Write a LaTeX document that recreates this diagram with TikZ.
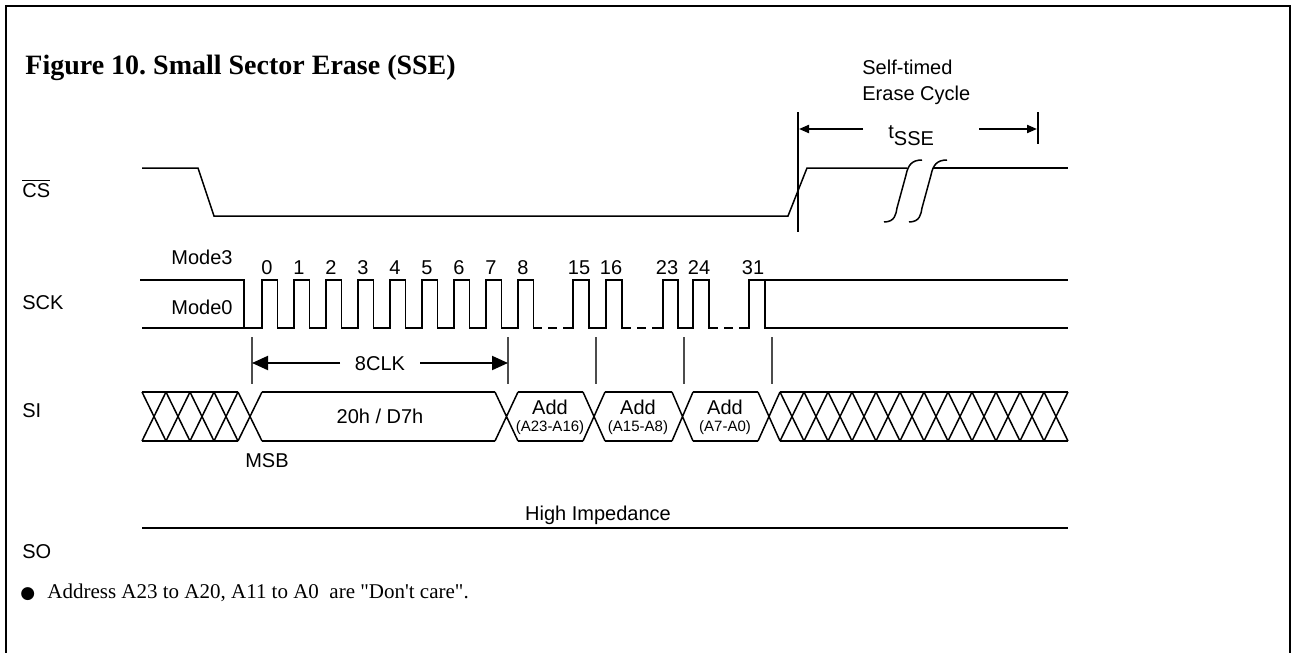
\documentclass[tikz,border=0pt]{standalone}
\usepackage{fontspec}
\setmainfont{Liberation Sans}
\newfontfamily\seriffont[Ligatures=TeXOff]{Liberation Serif}
\newfontfamily\symfont{DejaVu Sans}
\usetikzlibrary{arrows.meta}
\begin{document}
\frenchspacing
\begin{tikzpicture}[x=0.5pt,y=-0.5pt,
  sig/.style={line width=0.75pt, line join=miter},
  marker/.style={black!70, line width=0.6pt},
  lbl/.style={font=\fontsize{10}{12}\selectfont, inner sep=0pt, anchor=base},
  lblw/.style={font=\fontsize{10}{12}\selectfont, inner sep=0pt, anchor=base west},
  sublbl/.style={font=\fontsize{7.5}{9}\selectfont, inner sep=0pt, anchor=base},
  bigarrow/.style={line width=1pt, -{Triangle[length=8pt,width=7pt]}},
  smallarrow/.style={line width=1pt, -{Triangle[length=5pt,width=4pt]}},
]
\useasboundingbox (0,0) rectangle (1292,653);
% frame (open at the bottom)
\draw[line width=1pt] (6,653) -- (6,6) -- (1290,6) -- (1290,653);
% title
\node[anchor=base west, inner sep=0pt, font=\seriffont\bfseries\fontsize{14}{16}\selectfont] (title) at (25,75) {Figure 10. Small Sector Erase (SSE)};
% signal names
\node[lblw] (lcs) at (22,197) {$\overline{\hbox{CS}}$};
\node[lblw] (lsck) at (22,309) {SCK};
\node[lblw] (lsi) at (22,417) {SI};
\node[lblw] (lso) at (22,558) {SO};
% ---- CS ----
\draw[sig] (142,168) -- (198,168) -- (214,216) -- (788,216) -- (807,168) -- (907,168);
\draw[sig] (884,222) .. controls (895,222) and (896,214) .. (897,208) -- (906,175) .. controls (908,165) and (912,160) .. (922,160);
\draw[sig] (909,222) .. controls (920,222) and (921,214) .. (922,208) -- (931,175) .. controls (933,165) and (937,160) .. (947,160);
\draw[sig] (933,168) -- (1068,168);
% self-timed erase cycle
\coordinate (v1t) at (798,112); \coordinate (v1b) at (798,232);
\coordinate (v2t) at (1038,112); \coordinate (v2b) at (1038,144);
\draw[marker, black] (v1t) -- (v1b);
\draw[marker, black] (v2t) -- (v2b);
\node[lblw] (st1) at (862,75) {Self-timed};
\node[lblw] (st2) at (862,100) {Erase Cycle};
\node[lblw] (tsse) at (888,138) {t\raisebox{-3.5pt}{SSE}};
\coordinate (a1) at (863,129); \coordinate (a1e) at (799,129);
\coordinate (a2) at (979,129); \coordinate (a2e) at (1037,129);
\draw[smallarrow] (a1) -- (a1e);
\draw[smallarrow] (a2) -- (a2e);
% ---- SCK ----
\node[lbl] (m3) at (202,264) {Mode3};
\node[lbl] (m0) at (202,314) {Mode0};
\draw[sig] (140,280) -- (244,280) -- (244,328);
\draw[sig] (142,328)
  \foreach \k in {0,...,8} { -- ({262+32*\k},328) -- ({262+32*\k},280) -- ({277.5+32*\k},280) -- ({277.5+32*\k},328) }
  -- (542,328);
\draw[sig] (548,328) -- (557,328);
\draw[sig] (563,328) -- (573,328) -- (573,280) -- (589,280) -- (589,328) -- (606,328) -- (606,280) -- (622,280) -- (622,328) -- (631,328);
\draw[sig] (637,328) -- (646,328);
\draw[sig] (652,328) -- (663,328) -- (663,280) -- (678,280) -- (678,328) -- (693,328) -- (693,280) -- (709,280) -- (709,328) -- (718,328);
\draw[sig] (724,328) -- (733,328);
\draw[sig] (739,328) -- (749,328) -- (749,280) -- (765,280) -- (765,328) -- (1068,328);
\draw[sig] (765,280) -- (1068,280);
\foreach \k in {0,...,8} { \node[lbl] (n\k) at ({267+32*\k},274) {\k}; }
\node[lbl] (n15) at (579,274) {15};
\node[lbl] (n16) at (611,274) {16};
\node[lbl] (n23) at (667,274) {23};
\node[lbl] (n24) at (699,274) {24};
\node[lbl] (n31) at (753,274) {31};
% markers
\foreach \x/\n in {252/a,508/b,596/c,684/d,772/e} {
  \coordinate (mk\n t) at (\x,337); \coordinate (mk\n b) at (\x,384);
  \draw[marker] (mk\n t) -- (mk\n b);
}
% 8CLK
\node[lbl] (clk) at (380,370) {8CLK};
\coordinate (c1) at (340,363); \coordinate (c1e) at (252,363);
\coordinate (c2) at (420,363); \coordinate (c2e) at (508,363);
\draw[bigarrow] (c1) -- (c1e);
\draw[bigarrow] (c2) -- (c2e);
% ---- SI ----
\draw[sig] (142,392) -- (238,392) (142,441) -- (238,441);
\foreach \a in {142,166,190,214,238} { \draw[sig] (\a,392) -- ({\a+24},441) (\a,441) -- ({\a+24},392); }
\draw[sig] (262,392) -- (495,392) (262,441) -- (495,441);
\draw[sig] (495,392) -- (518,441) (495,441) -- (518,392);
\draw[sig] (518,392) -- (583,392) (518,441) -- (583,441);
\draw[sig] (583,392) -- (605,441) (583,441) -- (605,392);
\draw[sig] (605,392) -- (672,392) (605,441) -- (672,441);
\draw[sig] (672,392) -- (693,441) (672,441) -- (693,392);
\draw[sig] (693,392) -- (758,392) (693,441) -- (758,441);
\draw[sig] (758,392) -- (780,441) (758,441) -- (780,392);
\draw[sig] (780,392) -- (1068,392) (780,441) -- (1068,441);
\foreach \a in {780,804,...,1044} { \draw[sig] (\a,392) -- ({\a+24},441) (\a,441) -- ({\a+24},392); }
\node[lbl] (d0) at (380,423) {20h / D7h};
\node[lbl] (d1) at (550,414) {Add};
\node[sublbl] (s1) at (550,431) {(A23-A16)};
\node[lbl] (d2) at (638,414) {Add};
\node[sublbl] (s2) at (638,431) {(A15-A8)};
\node[lbl] (d3) at (725,414) {Add};
\node[sublbl] (s3) at (725,431) {(A7-A0)};
\node[lbl] (msb) at (267,467) {MSB};
% ---- SO ----
\draw[sig] (142,528) -- (1068,528);
\node[lbl] (hiz) at (598,520) {High Impedance};
% note
\node[anchor=base west, inner sep=0pt, font=\symfont\fontsize{8.5}{10}\selectfont] (bul) at (20,598) {●};
\node[anchor=base west, inner sep=0pt, font=\seriffont\fontsize{10.5}{12}\selectfont] (note) at (47,598) {Address A23 to A20, A11 to A0\ \ are "Don't care".};
\end{tikzpicture}
\end{document}
